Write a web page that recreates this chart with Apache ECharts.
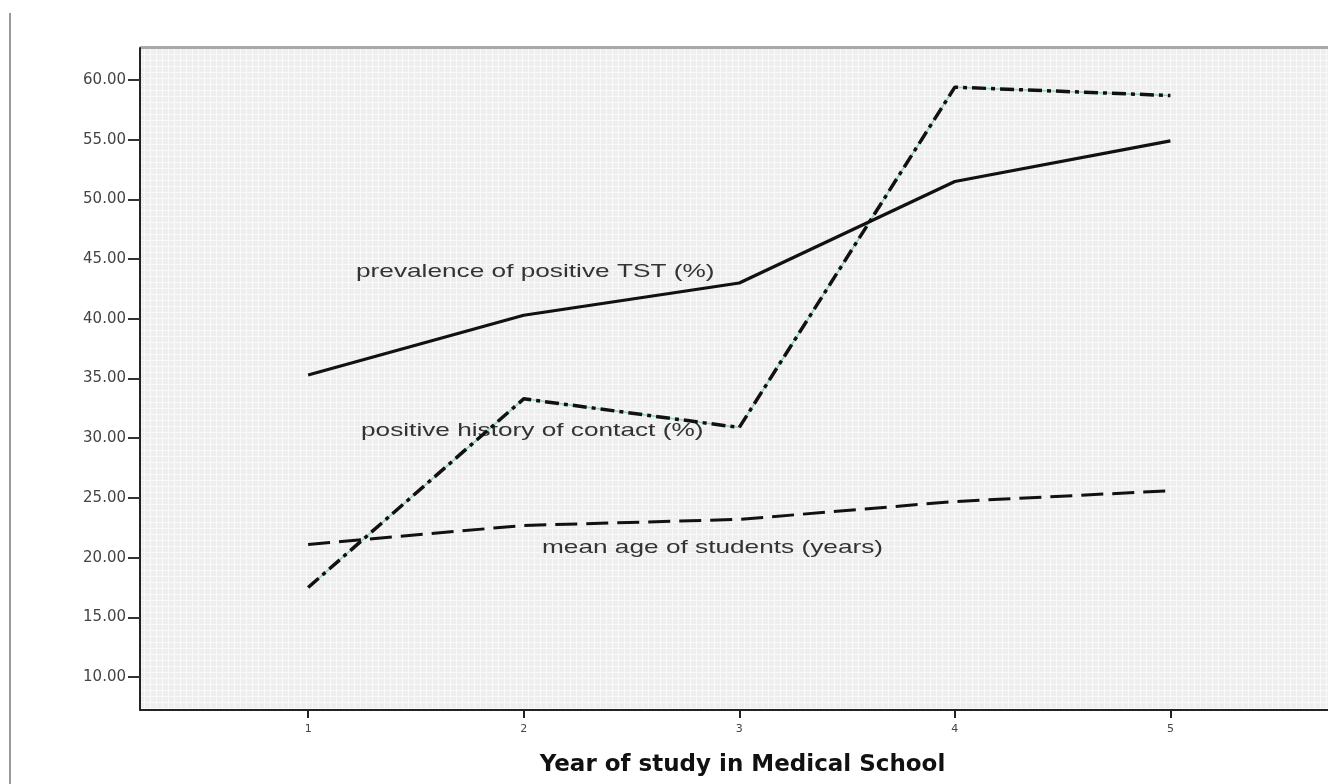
<!DOCTYPE html>
<html><head><meta charset="utf-8">
<script src="https://cdn.jsdelivr.net/npm/echarts@6/dist/echarts.min.js"></script>
<style>html,body{margin:0;padding:0;background:#fff}#c{width:1328px;height:784px}</style>
</head><body><div id="c"></div>
<script>
const years = [1, 2, 3, 4, 5];
const yTicks = [10, 15, 20, 25, 30, 35, 40, 45, 50, 55, 60];
const tstPrevalence = [35.3, 40.3, 43.0, 51.5, 54.9];
const contactHistory = [17.5, 33.3, 30.9, 59.4, 58.7];
const meanAge = [21.1, 22.7, 23.2, 24.7, 25.6];

const pc = document.createElement('canvas');
pc.width = 6; pc.height = 6;
const px = pc.getContext('2d');
px.fillStyle = '#eeeeee'; px.fillRect(0, 0, 6, 6);
px.fillStyle = '#f9f9f9';
px.fillRect(0, 0, 6, 1); px.fillRect(0, 0, 1, 6);

const chart = echarts.init(document.getElementById('c'));
const toPairs = arr => years.map((x, i) => [x, arr[i]]);
const fontFam = '"Liberation Sans", Arial, sans-serif';
const wideFam = '"DejaVu Sans", sans-serif';
function label(text, x, y) {
  return { type: 'text', x: x, y: y, scaleX: 1.38, scaleY: 1,
    style: { text: text, x: 0, y: 0, font: '19px ' + fontFam, fill: '#333', textVerticalAlign: 'middle' } };
}
chart.setOption({
  animation: false,
  grid: { left: 140, top: 48, width: 1205, height: 662, show: true, outerBoundsMode: 'none', containLabel: false,
    backgroundColor: { image: pc, repeat: 'repeat' }, borderWidth: 0 },
  xAxis: {
    type: 'value', min: 0.22, max: 5.81,
    name: 'Year of study in Medical School', nameLocation: 'middle', nameGap: 44,
    nameTextStyle: { fontFamily: wideFam, fontSize: 23, fontWeight: 'bold', color: '#111' },
    axisLine: { show: true, lineStyle: { color: '#222', width: 2 } },
    axisTick: { show: true, length: 8, customValues: years, lineStyle: { color: '#222', width: 2 } },
    axisLabel: { customValues: years, fontFamily: wideFam, fontSize: 11, color: '#444', margin: 14 },
    splitLine: { show: false }
  },
  yAxis: {
    type: 'value', min: 7.24, max: 62.68,
    axisLine: { show: true, lineStyle: { color: '#222', width: 2 } },
    axisTick: { show: true, length: 12, customValues: yTicks, lineStyle: { color: '#333', width: 2 } },
    axisLabel: { customValues: yTicks, formatter: v => v.toFixed(2), fontFamily: wideFam, fontSize: 15, color: '#444', margin: 14 },
    splitLine: { show: false }
  },
  graphic: [
    { type: 'rect', shape: { x: 9, y: 13, width: 2, height: 771 }, style: { fill: '#999' } },
    { type: 'rect', shape: { x: 140, y: 46, width: 1188, height: 3 }, style: { fill: '#a8a8a8' } },
    label('prevalence of positive TST (%)', 356, 272),
    label('positive history of contact (%)', 361, 431),
    label('mean age of students (years)', 542, 548)
  ],
  series: [
    { type: 'line', name: 'contact-under', data: toPairs(contactHistory), symbol: 'none', silent: true,
      lineStyle: { color: '#8fd8b0', width: 1.5 }, z: 1 },
    { type: 'line', name: 'prevalence of positive TST (%)', data: toPairs(tstPrevalence), symbol: 'none',
      lineStyle: { color: '#111', width: 3.2 }, z: 3 },
    { type: 'line', name: 'positive history of contact (%)', data: toPairs(contactHistory), symbol: 'none',
      lineStyle: { color: '#111', width: 3.5, type: [14, 5, 4, 5] }, z: 2 },
    { type: 'line', name: 'mean age of students (years)', data: toPairs(meanAge), symbol: 'none',
      lineStyle: { color: '#111', width: 3, type: [22, 9] }, z: 2 }
  ]
});
</script></body></html>
